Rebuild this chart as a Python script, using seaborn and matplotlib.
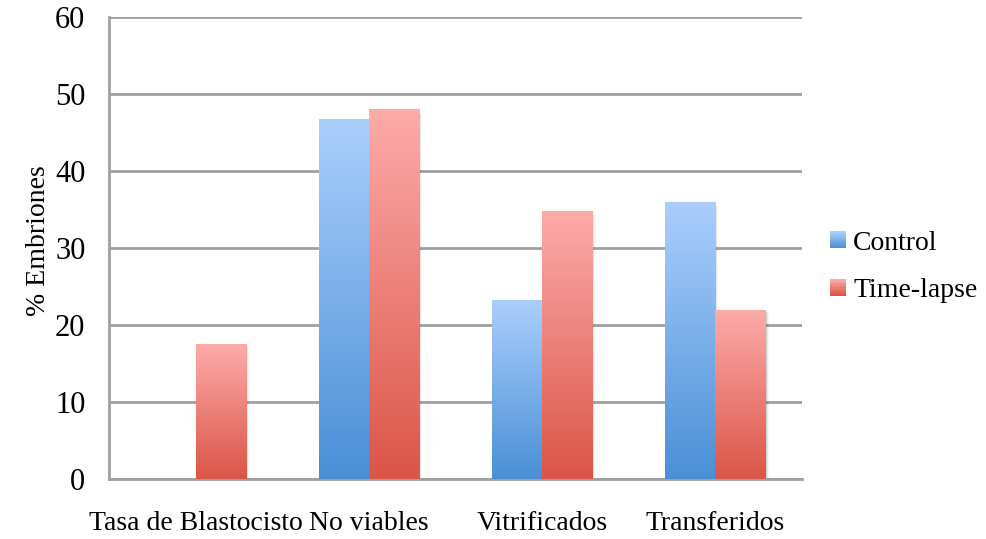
import numpy as np
import pandas as pd
import matplotlib
matplotlib.use("Agg")
import matplotlib.pyplot as plt
from matplotlib.colors import LinearSegmentedColormap
from matplotlib.legend_handler import HandlerBase
from matplotlib.patches import Rectangle
import seaborn as sns

categories = ["Tasa de Blastocisto", "No viables", "Vitrificados", "Transferidos"]
control = [0.0, 46.7, 23.3, 36.0]
time_lapse = [17.5, 48.1, 34.8, 22.0]
series_names = ["Control", "Time-lapse"]
y_ticks = [0, 10, 20, 30, 40, 50, 60]

df = pd.DataFrame({
    "categoria": categories * 2,
    "valor": control + time_lapse,
    "serie": [series_names[0]] * len(categories) + [series_names[1]] * len(categories),
})

# top / bottom colours of the vertical gradient for each series
grad = {
    "Control": ("#abcffd", "#4a8fd6"),
    "Time-lapse": ("#fdabaa", "#db5548"),
}

sns.set_theme(style="white")
plt.rcParams["font.family"] = ["Liberation Serif", "DejaVu Serif"]
plt.rcParams["text.color"] = "black"
plt.rcParams["axes.labelcolor"] = "black"

fig = plt.figure(figsize=(9.86, 5.39), dpi=100)
ax = fig.add_axes([109 / 986, 1 - 479 / 539, (802 - 109) / 986, (479 - 17) / 539])

sns.barplot(data=df, x="categoria", y="valor", hue="serie",
            palette=[grad[s][1] for s in series_names],
            width=0.58, gap=0, dodge=True, legend=False, ax=ax, zorder=3,
            edgecolor="none", linewidth=0)

n = len(categories)

# replace flat fills with a top-to-bottom gradient per bar
patches = [p for p in ax.patches if isinstance(p, Rectangle)]
for i, p in enumerate(patches):
    name = series_names[i // n]
    h = p.get_height()
    if h <= 0:
        p.set_visible(False)
        continue
    x0, w = p.get_x(), p.get_width()
    # soft shadow on the right
    for k, a in enumerate([0.10, 0.06, 0.03]):
        ax.add_patch(Rectangle((x0 + w, 0), 0.006 * (k + 1), h * 0.985,
                               facecolor="black", alpha=a, edgecolor="none", zorder=2.5))
    cmap = LinearSegmentedColormap.from_list(name, [grad[name][1], grad[name][0]])
    img = ax.imshow(np.linspace(0, 1, 256).reshape(-1, 1), cmap=cmap, origin="lower",
                    extent=[x0, x0 + w, 0, h], aspect="auto", zorder=3.1)
    img.set_clip_path(p)
    p.set_facecolor("none")

ax.set_xlim(-0.5, n - 0.5)
ax.set_ylim(0, 60)

grid_c = "#a0a0a0"
ax.set_yticks(y_ticks)
ax.yaxis.grid(True, color=grid_c, linewidth=2, zorder=1)
ax.set_axisbelow(True)
for s in ["top", "right"]:
    ax.spines[s].set_visible(False)
for s in ["left", "bottom"]:
    ax.spines[s].set_color(grid_c)
    ax.spines[s].set_linewidth(2)

# category ticks sit on the boundaries between groups
ax.set_xticks(np.arange(n))
ax.set_xticks(np.arange(n + 1) - 0.5, minor=True)
ax.tick_params(axis="x", which="major", length=0, pad=23, labelsize=20, labelcolor="black")
ax.tick_params(axis="x", which="minor", length=7, width=2, color=grid_c, direction="out")
ax.tick_params(axis="y", length=7, width=2, color=grid_c, direction="out", labelsize=22,
               pad=10, labelcolor="black")
ax.set_xticklabels(categories, fontsize=20)
ax.set_xlabel("")
ax.set_ylabel("% Embriones", fontsize=20, labelpad=3)
ax.yaxis.label.set_y(0.517)


class GradientSquare(HandlerBase):
    def __init__(self, top, bottom):
        super().__init__()
        self.top, self.bottom = top, bottom

    def create_artists(self, legend, orig_handle, xdescent, ydescent, width, height, fontsize, trans):
        cmap = LinearSegmentedColormap.from_list("g", [self.bottom, self.top])
        size = height * 1.0
        x0 = -xdescent + width - size
        y0 = -ydescent
        steps = 12
        arts = []
        for k in range(steps):
            arts.append(Rectangle((x0, y0 + size * k / steps), size, size / steps + 0.2,
                                  facecolor=cmap(k / (steps - 1)), edgecolor="none",
                                  transform=trans))
        return arts


handles = [Rectangle((0, 0), 1, 1) for _ in series_names]
leg = fig.legend(handles, series_names, loc="center left", bbox_to_anchor=(806 / 986, 1 - 267 / 539),
                 frameon=False, fontsize=20, handlelength=0.55, handleheight=0.55, handletextpad=0.25,
                 labelspacing=0.8,
                 handler_map={handles[0]: GradientSquare(*grad["Control"]),
                              handles[1]: GradientSquare(*grad["Time-lapse"])})

fig.savefig("out.png", dpi=100)
